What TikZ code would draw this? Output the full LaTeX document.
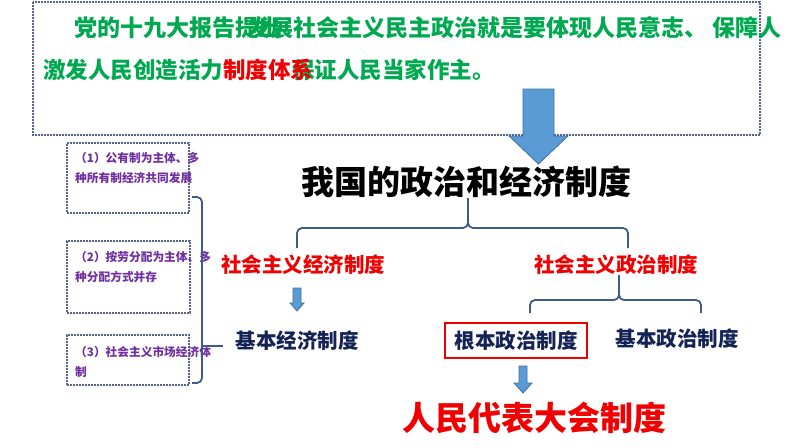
\documentclass[tikz,border=0pt]{standalone}
\usepackage{fontspec}
\setmainfont{Noto Sans CJK SC}
\newcommand{\setfs}[1]{\fontsize{#1}{#1}\selectfont}
\definecolor{pptgreen}{RGB}{0,168,80}
\definecolor{pptred}{RGB}{240,0,0}
\definecolor{navy}{RGB}{20,35,85}
\definecolor{plum}{RGB}{112,48,160}
\definecolor{dotgray}{RGB}{88,100,140}
\definecolor{bracecol}{RGB}{62,92,135}
\definecolor{arrowfill}{RGB}{91,155,213}
\definecolor{arrowline}{RGB}{65,113,156}
\tikzset{
  txt/.style={inner sep=0pt, font=\setfs{#1}\bfseries},
  boxtxt/.style={inner sep=0pt, text=plum, anchor=north west, align=left, font=\fontsize{11.7}{20.5}\selectfont\bfseries},
  dotbox/.style={draw=dotgray, line width=2pt, dash pattern=on 1.6pt off 1.4pt},
  brace/.style={draw=bracecol, line width=1.8pt, rounded corners=5pt},
  fatarrow/.style={fill=arrowfill, draw=arrowline, line width=0.8pt},
}
\begin{document}
\begin{tikzpicture}[x=1pt, y=-1pt]
\useasboundingbox (0,0) rectangle (794,447);
% Quote box at the top
\draw[dotbox] (33,2) rectangle (760,135);
\node[txt=23, text=pptgreen, anchor=base west] (q1a) at (74,36) {党的十九大报告提出};
\node[txt=23, text=pptgreen, anchor=base west] (q1b) at (247,36) {发展社会主义民主政治就是要体现人民意志、 保障人};
\node[txt=22.5, text=pptgreen, anchor=base west] (q2a) at (43,78) {激发人民创造活力};
\node[txt=22.5, text=pptgreen, anchor=base west] (q2b) at (292,78) {保证人民当家作主。};
\node[txt=22.5, text=pptred, anchor=base west] (q2c) at (223,78) {制度体系};
% Big arrow down to the title
\draw[fatarrow] (523,89) -- (554,89) -- (554,136) -- (568,136) -- (538.5,164) -- (509,136) -- (523,136) -- cycle;
% Main tree
\node[txt=33] (title) at (466,182) {我国的政治和经济制度};
\node[txt=20.5, text=pptred] (econ) at (303,265) {社会主义经济制度};
\node[txt=20.5, text=pptred] (polit) at (616,265) {社会主义政治制度};
\node[txt=20.5, text=navy] (basicecon) at (297,341) {基本经济制度};
\node[txt=20.5, text=navy, draw=pptred, line width=2pt, minimum width=142, minimum height=35] (rootpol) at (516,340.5) {根本政治制度};
\node[txt=20.5, text=navy] (basicpol) at (677,339) {基本政治制度};
\node[txt=33, text=pptred] (npc) at (534,418) {人民代表大会制度};
% Braces
\coordinate (b1l) at (297,248); \coordinate (b1m) at (468,228); \coordinate (b1r) at (628,248);
\draw[brace] (b1l) |- (b1m) -- (title.south -| b1m);
\draw[brace] (b1r) |- (b1m) -- (title.south -| b1m);
\coordinate (b2l) at (530,313); \coordinate (b2m) at (619,300); \coordinate (b2r) at (701,313);
\draw[brace] (b2l) |- (b2m) -- (polit.south -| b2m);
\draw[brace] (b2r) |- (b2m) -- (polit.south -| b2m);
% Small arrows
\draw[fatarrow] (293,288) -- ++(8,0) -- ++(0,15) -- ++(3,0) -- ++(-7,8) -- ++(-7,-8) -- ++(3,0) -- cycle;
\draw[fatarrow] (519,366) -- ++(8,0) -- ++(0,17) -- ++(5,0) -- ++(-9,10) -- ++(-9,-10) -- ++(5,0) -- cycle;
% Three features of the basic economic system
\node[dotbox, minimum width=122, minimum height=70] (box1) at (128,178) {};
\node[dotbox, minimum width=123, minimum height=72] (box2) at (128.5,277) {};
\node[dotbox, minimum width=122, minimum height=50] (box3) at (128,360) {};
\node[boxtxt] (t1) at (75,152) {（1）公有制为主体、多\\种所有制经济共同发展};
\node[boxtxt] (t2) at (75,251) {（2）按劳分配为主体、多\\种分配方式并存};
\node[boxtxt] (t3) at (75,346) {（3）社会主义市场经济体\\制};
\coordinate (lbt) at (192,197); \coordinate (lbtip) at (202,346); \coordinate (lbb) at (192,383);
\coordinate (lbend) at (223,346);
\draw[brace] (lbt) -| (lbtip) |- (lbb);
\draw[brace] (lbtip) -- (lbend);
\end{tikzpicture}
\end{document}
